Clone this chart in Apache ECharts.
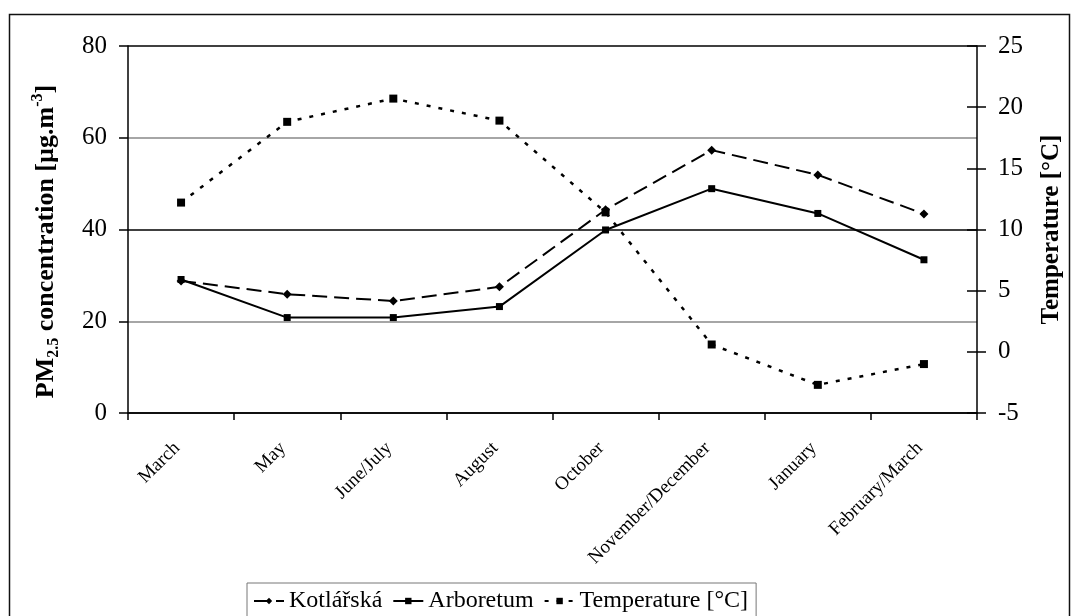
<!DOCTYPE html>
<html>
<head>
<meta charset="utf-8">
<script src="https://cdn.jsdelivr.net/npm/echarts@6/dist/echarts.min.js"></script>
<style>
  html, body { margin: 0; padding: 0; background: #fff; }
  #chart { width: 1072px; height: 616px; }
</style>
</head>
<body>
<div id="chart"></div>
<script>
// Sampling campaigns (x axis)
const months = ['March', 'May', 'June/July', 'August', 'October', 'November/December', 'January', 'February/March'];
// PM2.5 concentration, µg.m-3
const kotlarska = [28.8, 25.9, 24.4, 27.5, 44.3, 57.3, 51.9, 43.4];
const arboretum = [29.1, 20.8, 20.8, 23.2, 39.9, 48.9, 43.5, 33.4];
// Mean air temperature, °C
const temperature = [12.2, 18.8, 20.7, 18.9, 11.4, 0.6, -2.7, -1.0];

const FONT = "'Liberation Serif', 'DejaVu Serif', serif";

const chart = echarts.init(document.getElementById('chart'), null, { renderer: 'canvas' });

chart.setOption({
  backgroundColor: '#fff',
  animation: false,
  textStyle: { fontFamily: FONT, color: '#000' },
  graphic: [{
    type: 'rect',
    shape: { x: 9.5, y: 14.5, width: 1060, height: 700 },
    style: { fill: 'none', stroke: '#111', lineWidth: 1.5 },
    silent: true,
    z: -1
  }],
  grid: { left: 128, right: 89, top: 46, bottom: 203 },
  legend: {
    left: 247,
    top: 583,
    padding: [6, 8, 12, 6],
    borderColor: '#777',
    borderWidth: 1,
    itemGap: 10,
    itemWidth: 30,
    itemHeight: 8,
    textStyle: { fontFamily: FONT, fontSize: 24, color: '#000' },
    data: ['Kotlářská', 'Arboretum', 'Temperature [°C]']
  },
  xAxis: {
    type: 'category',
    data: months,
    boundaryGap: true,
    axisLine: { lineStyle: { color: '#000', width: 1.5 } },
    axisTick: { show: true, length: 7, lineStyle: { color: '#000', width: 1.5 } },
    axisLabel: {
      interval: 0,
      rotate: 45,
      margin: 28,
      padding: [0, 6, 0, 0],
      fontFamily: FONT,
      fontSize: 19,
      color: '#000'
    },
    splitLine: { show: false }
  },
  yAxis: [{
    type: 'value',
    min: 0, max: 80, interval: 20,
    position: 'left',
    name: '{b|PM}{s|2.5}{b| concentration [µg.m}{p|-3}{b|]}',
    nameLocation: 'middle',
    nameRotate: 90,
    nameGap: 66,
    nameTextStyle: {
      padding: [0, 24, 0, 0],
      rich: {
        b: { fontFamily: FONT, fontWeight: 'bold', fontSize: 26, color: '#000', lineHeight: 32 },
        s: { fontFamily: FONT, fontWeight: 'bold', fontSize: 16, color: '#000', verticalAlign: 'bottom', lineHeight: 32 },
        p: { fontFamily: FONT, fontWeight: 'bold', fontSize: 16, color: '#000', verticalAlign: 'top', lineHeight: 32 }
      }
    },
    axisLine: { show: true, lineStyle: { color: '#000', width: 1.5 } },
    axisTick: { show: true, length: 9, lineStyle: { color: '#000', width: 1.5 } },
    axisLabel: { fontFamily: FONT, fontSize: 25, color: '#000', margin: 21 },
    splitLine: { show: true, lineStyle: { color: ['#000', '#888'], width: 1.5 } }
  }, {
    type: 'value',
    min: -5, max: 25, interval: 5,
    position: 'right',
    name: 'Temperature [°C]',
    nameLocation: 'middle',
    nameRotate: 90,
    nameGap: 62,
    nameTextStyle: { fontFamily: FONT, fontWeight: 'bold', fontSize: 25, color: '#000' },
    axisLine: { show: true, lineStyle: { color: '#000', width: 1.5 } },
    axisTick: { show: true, length: 9, lineStyle: { color: '#000', width: 1.5 } },
    axisLabel: { fontFamily: FONT, fontSize: 25, color: '#000', margin: 21 },
    splitLine: { show: false }
  }, {
    // inner half of the right-hand tick marks
    type: 'value',
    min: -5, max: 25, interval: 5,
    position: 'right',
    axisLine: { show: false },
    axisTick: { show: true, inside: true, length: 10, lineStyle: { color: '#000', width: 1.5 } },
    axisLabel: { show: false },
    splitLine: { show: false }
  }],
  series: [{
    name: 'Kotlářská',
    type: 'line',
    yAxisIndex: 0,
    data: kotlarska,
    symbol: 'diamond',
    symbolSize: 9,
    itemStyle: { color: '#000' },
    lineStyle: { color: '#000', width: 2, type: [15, 7] },
    z: 3
  }, {
    name: 'Arboretum',
    type: 'line',
    yAxisIndex: 0,
    data: arboretum,
    symbol: 'rect',
    symbolSize: 7,
    itemStyle: { color: '#000' },
    lineStyle: { color: '#000', width: 2, type: 'solid' },
    z: 3
  }, {
    name: 'Temperature [°C]',
    type: 'line',
    yAxisIndex: 1,
    data: temperature,
    symbol: 'rect',
    symbolSize: 8,
    itemStyle: { color: '#000' },
    lineStyle: { color: '#000', width: 2.5, type: [4, 8] },
    z: 3
  }]
});
</script>
</body>
</html>
